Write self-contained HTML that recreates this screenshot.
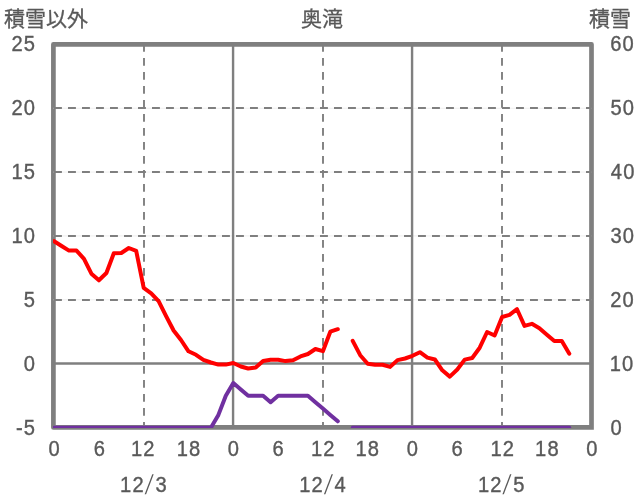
<!DOCTYPE html>
<html lang="ja">
<head>
<meta charset="utf-8">
<title>奥滝</title>
<style>
html,body{margin:0;padding:0;background:#fff;}
body{width:636px;height:501px;overflow:hidden;}
svg{display:block;}
</style>
</head>
<body>
<svg width="636" height="501" viewBox="0 0 636 501">
<defs><clipPath id="plot"><rect x="53" y="40" width="543" height="388"/></clipPath></defs>
<rect x="0" y="0" width="636" height="501" fill="#ffffff"/>
<path d="M591.50 427.45 H53.40 V44.40 H591.50 V427.45" fill="none" stroke="#7f7f7f" stroke-width="4.7" stroke-linejoin="round" stroke-linecap="square"/>
<line x1="53.40" y1="108.24" x2="591.50" y2="108.24" stroke="#e4e4e4" stroke-width="0.6"/>
<line x1="54" y1="108.00" x2="591.50" y2="108.00" stroke="#7f7f7f" stroke-width="1.9" stroke-dasharray="7.9 6.1"/>
<line x1="53.40" y1="172.08" x2="591.50" y2="172.08" stroke="#e4e4e4" stroke-width="0.6"/>
<line x1="54" y1="172.00" x2="591.50" y2="172.00" stroke="#7f7f7f" stroke-width="1.9" stroke-dasharray="7.9 6.1"/>
<line x1="53.40" y1="235.92" x2="591.50" y2="235.92" stroke="#e4e4e4" stroke-width="0.6"/>
<line x1="54" y1="236.00" x2="591.50" y2="236.00" stroke="#7f7f7f" stroke-width="1.9" stroke-dasharray="7.9 6.1"/>
<line x1="53.40" y1="299.77" x2="591.50" y2="299.77" stroke="#e4e4e4" stroke-width="0.6"/>
<line x1="54" y1="300.00" x2="591.50" y2="300.00" stroke="#7f7f7f" stroke-width="1.9" stroke-dasharray="7.9 6.1"/>
<line x1="53.40" y1="363.55" x2="591.50" y2="363.55" stroke="#7f7f7f" stroke-width="2.4"/>
<line x1="144.00" y1="44" x2="144.00" y2="427.45" stroke="#7f7f7f" stroke-width="1.9" stroke-dasharray="7.7 6.3"/>
<line x1="323.00" y1="44" x2="323.00" y2="427.45" stroke="#7f7f7f" stroke-width="1.9" stroke-dasharray="7.7 6.3"/>
<line x1="502.00" y1="44" x2="502.00" y2="427.45" stroke="#7f7f7f" stroke-width="1.9" stroke-dasharray="7.7 6.3"/>
<line x1="233.07" y1="44.40" x2="233.07" y2="427.45" stroke="#7f7f7f" stroke-width="2.4"/>
<line x1="412.07" y1="44.40" x2="412.07" y2="427.45" stroke="#7f7f7f" stroke-width="2.4"/>
<g clip-path="url(#plot)">
<polyline points="54.1,427.7 61.6,427.7 69.0,427.7 76.5,427.7 84.0,427.7 91.4,427.7 98.9,427.7 106.4,427.7 113.8,427.7 121.3,427.7 128.8,427.7 136.2,427.7 143.7,427.7 151.2,427.7 158.6,427.7 166.1,427.7 173.6,427.7 181.0,427.7 188.5,427.7 196.0,427.7 203.4,427.7 210.9,427.7 218.4,414.9 225.8,395.8 233.3,383.0 240.8,389.4 248.2,395.8 255.7,395.8 263.1,395.8 270.6,402.2 278.1,395.8 285.5,395.8 293.0,395.8 300.5,395.8 307.9,395.8 315.4,402.2 322.9,408.5 330.3,414.9 337.8,421.3" fill="none" stroke="#7030a0" stroke-width="4" stroke-linecap="round" stroke-linejoin="round"/>
<polyline points="352.7,427.7 360.2,427.7 367.7,427.7 375.1,427.7 382.6,427.7 390.1,427.7 397.5,427.7 405.0,427.7 412.5,427.7 419.9,427.7 427.4,427.7 434.9,427.7 442.3,427.7 449.8,427.7 457.3,427.7 464.7,427.7 472.2,427.7 479.7,427.7 487.1,427.7 494.6,427.7 502.1,427.7 509.5,427.7 517.0,427.7 524.5,427.7 531.9,427.7 539.4,427.7 546.9,427.7 554.3,427.7 561.8,427.7 569.3,427.7" fill="none" stroke="#7030a0" stroke-width="4" stroke-linecap="round" stroke-linejoin="round"/>
<polyline points="54.1,241.2 61.6,246.0 69.0,250.6 76.5,250.6 84.0,258.8 91.4,273.7 98.9,280.3 106.4,273.0 113.8,253.3 121.3,253.0 128.8,248.0 136.2,250.9 143.7,287.9 151.2,293.4 158.6,301.2 166.1,316.2 173.6,330.5 181.0,340.0 188.5,351.3 196.0,354.8 203.4,359.9 210.9,362.5 218.4,364.6 225.8,364.6 233.3,363.0 240.8,366.5 248.2,368.5 255.7,367.4 263.1,361.0 270.6,359.8 278.1,359.8 285.5,361.1 293.0,360.3 300.5,356.4 307.9,354.0 315.4,349.0 322.9,351.2 330.3,331.7 337.8,329.2" fill="none" stroke="#ff0000" stroke-width="4" stroke-linecap="round" stroke-linejoin="round"/>
<polyline points="352.7,340.8 360.2,355.2 367.7,363.7 375.1,364.8 382.6,364.8 390.1,366.9 397.5,360.1 405.0,358.5 412.5,355.8 419.9,352.2 427.4,357.6 434.9,359.5 442.3,370.3 449.8,376.6 457.3,369.5 464.7,359.6 472.2,358.0 479.7,347.7 487.1,332.0 494.6,335.5 502.1,317.0 509.5,314.8 517.0,309.2 524.5,325.9 531.9,323.8 539.4,328.2 546.9,334.8 554.3,341.1 561.8,341.1 569.3,353.7" fill="none" stroke="#ff0000" stroke-width="4" stroke-linecap="round" stroke-linejoin="round"/>
</g>
<g font-family="'Liberation Sans', 'Noto Sans CJK JP', sans-serif" font-size="22.5" letter-spacing="1.230" fill="#595959" stroke="#595959" stroke-width="0.4">
<text transform="translate(11.45 50.6) scale(0.895 1)">25</text>
<text transform="translate(11.39 114.7) scale(0.895 1)">20</text>
<text transform="translate(11.45 178.7) scale(0.895 1)">15</text>
<text transform="translate(11.39 242.7) scale(0.895 1)">10</text>
<text transform="translate(23.75 306.6) scale(0.895 1)">5</text>
<text transform="translate(23.69 370.6) scale(0.895 1)">0</text>
<text transform="translate(15.94 434.6) scale(0.895 1)">-5</text>
<text transform="translate(610.28 50.6) scale(0.895 1)">60</text>
<text transform="translate(610.49 114.7) scale(0.895 1)">50</text>
<text transform="translate(610.84 178.7) scale(0.895 1)">40</text>
<text transform="translate(610.53 242.7) scale(0.895 1)">30</text>
<text transform="translate(610.29 306.6) scale(0.895 1)">20</text>
<text transform="translate(609.77 370.6) scale(0.895 1)">10</text>
<text transform="translate(610.51 434.6) scale(0.895 1)">0</text>
<text transform="translate(48.60 455.8) scale(0.895 1)">0</text>
<text transform="translate(93.63 455.8) scale(0.895 1)">6</text>
<text transform="translate(130.98 455.8) scale(0.895 1)">12</text>
<text transform="translate(176.81 455.8) scale(0.895 1)">18</text>
<text transform="translate(227.68 455.8) scale(0.895 1)">0</text>
<text transform="translate(272.51 455.8) scale(0.895 1)">6</text>
<text transform="translate(311.07 455.8) scale(0.895 1)">12</text>
<text transform="translate(355.49 455.8) scale(0.895 1)">18</text>
<text transform="translate(406.67 455.8) scale(0.895 1)">0</text>
<text transform="translate(451.40 455.8) scale(0.895 1)">6</text>
<text transform="translate(490.45 455.8) scale(0.895 1)">12</text>
<text transform="translate(535.08 455.8) scale(0.895 1)">18</text>
<text transform="translate(586.15 455.8) scale(0.895 1)">0</text>
<g><text transform="translate(120.11 491.8) scale(0.895 1)">12</text><text transform="translate(144.7 493.5) skewX(-11.5) scale(0.65 1)" font-size="27.2" stroke="none" letter-spacing="0">/</text><text transform="translate(155.53 491.8) scale(0.895 1)">3</text></g>
<g><text transform="translate(299.29 491.8) scale(0.895 1)">12</text><text transform="translate(323.9 493.5) skewX(-11.5) scale(0.65 1)" font-size="27.2" stroke="none" letter-spacing="0">/</text><text transform="translate(334.42 491.8) scale(0.895 1)">4</text></g>
<g><text transform="translate(477.98 491.8) scale(0.895 1)">12</text><text transform="translate(502.6 493.5) skewX(-11.5) scale(0.65 1)" font-size="27.2" stroke="none" letter-spacing="0">/</text><text transform="translate(513.36 491.8) scale(0.895 1)">5</text></g>
</g>
<g font-family="'Liberation Sans', 'Noto Sans CJK JP', sans-serif" font-size="21" fill="#595959" stroke="#595959" stroke-width="0.3">
<text x="4" y="26.4">積雪以外</text>
<text x="322" y="26.4" text-anchor="middle">奥滝</text>
<text x="589" y="26.4">積雪</text>
</g>
</svg>
</body>
</html>
